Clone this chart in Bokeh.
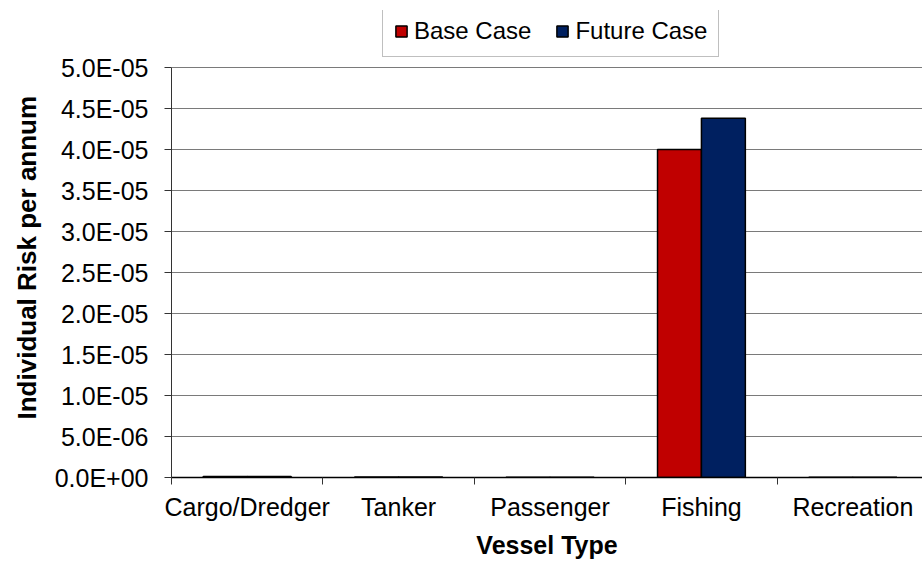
from bokeh.plotting import figure
from bokeh.models import ColumnDataSource, Range1d, FixedTicker, Legend, LegendItem, Title
from bokeh.embed import file_html
from bokeh.resources import INLINE

categories = ["Cargo/Dredger", "Tanker", "Passenger", "Fishing", "Recreation"]
base_case = [1.2e-7, 6e-8, 4e-8, 4.0e-5, 4e-8]
future_case = [1.2e-7, 6e-8, 4e-8, 4.38e-5, 4e-8]
y_ticks = [0, 5e-6, 1e-5, 1.5e-5, 2e-5, 2.5e-5, 3e-5, 3.5e-5, 4e-5, 4.5e-5, 5e-5]
y_tick_labels = ["0.0E+00", "5.0E-06", "1.0E-05", "1.5E-05", "2.0E-05", "2.5E-05",
                 "3.0E-05", "3.5E-05", "4.0E-05", "4.5E-05", "5.0E-05"]

FONT = "Liberation Sans"
FS = "25px"

n = len(categories)
centers = [i + 0.5 for i in range(n)]
bounds = [float(i) for i in range(n + 1)]
bw = 0.29

# frame spans page y 10..477; value axis 0..max occupies the lower 410 px
frame_top, axis_top, frame_bottom = 10, 67, 477
y_max = y_ticks[-1]
y_end = y_max * (frame_bottom - frame_top) / (frame_bottom - axis_top)

src_b = ColumnDataSource(dict(x=[c - bw / 2 for c in centers], top=base_case))
src_f = ColumnDataSource(dict(x=[c + bw / 2 for c in centers], top=future_case))

p = figure(width=922, height=561, output_backend="svg", toolbar_location=None,
           x_range=Range1d(0, 4.96), y_range=Range1d(0, y_end),
           min_border_left=170, min_border_right=0, min_border_top=frame_top,
           min_border_bottom=561 - frame_bottom)
p.outline_line_color = None
p.background_fill_color = "white"
p.border_fill_color = "white"

rb = p.vbar(x="x", top="top", width=bw, bottom=0, source=src_b,
            fill_color="#C00000", line_color="black", line_width=1.5)
rf = p.vbar(x="x", top="top", width=bw, bottom=0, source=src_f,
            fill_color="#002060", line_color="black", line_width=1.5)

# x axis
xa = p.xaxis[0]
xa.ticker = FixedTicker(ticks=centers, minor_ticks=bounds)
xa.major_label_overrides = {c: lab for c, lab in zip(centers, categories)}
xa.major_tick_out = 0
xa.major_tick_in = 0
xa.minor_tick_out = 7
xa.minor_tick_in = 0
xa.minor_tick_line_color = "#333333"
xa.axis_line_color = "black"
xa.axis_line_width = 1.5
xa.major_label_text_font = FONT
xa.major_label_text_font_size = FS
xa.major_label_text_color = "black"
xa.major_label_standoff = 8
xa.axis_label = "Vessel Type"
xa.axis_label_text_font = FONT
xa.axis_label_text_font_size = FS
xa.axis_label_text_font_style = "bold"
xa.axis_label_text_color = "black"
xa.axis_label_standoff = 7

# y axis
ya = p.yaxis[0]
ya.bounds = (0, y_max)
ya.ticker = FixedTicker(ticks=y_ticks, minor_ticks=[])
ya.major_label_overrides = {t: l for t, l in zip(y_ticks, y_tick_labels)}
ya.major_tick_out = 7
ya.major_tick_in = 0
ya.major_tick_line_color = "#333333"
ya.axis_line_color = "#333333"
ya.major_label_text_font = FONT
ya.major_label_text_font_size = FS
ya.major_label_text_color = "black"
ya.major_label_standoff = 16

ytitle = Title(text="Individual Risk per annum", align="left", offset=58,
               text_font=FONT, text_font_size="26px", text_font_style="bold",
               text_color="black", standoff=19)
p.add_layout(ytitle, "left")

p.xgrid.grid_line_color = None
p.ygrid.ticker = FixedTicker(ticks=y_ticks[1:])
p.ygrid.grid_line_color = "#7a7a7a"
p.ygrid.grid_line_width = 1

legend = Legend(items=[LegendItem(label="Base Case", renderers=[rb]),
                       LegendItem(label="Future Case", renderers=[rf])],
                orientation="horizontal", location=(211, 420), margin=0,
                padding=11, spacing=24, label_standoff=6,
                glyph_width=14, glyph_height=14, label_height=22,
                label_text_font=FONT, label_text_font_size="24px",
                label_text_color="black",
                border_line_color="#808080", border_line_width=1,
                background_fill_color="white", background_fill_alpha=1)
p.add_layout(legend, "center")

open("out.html", "w").write(file_html(p, INLINE))
